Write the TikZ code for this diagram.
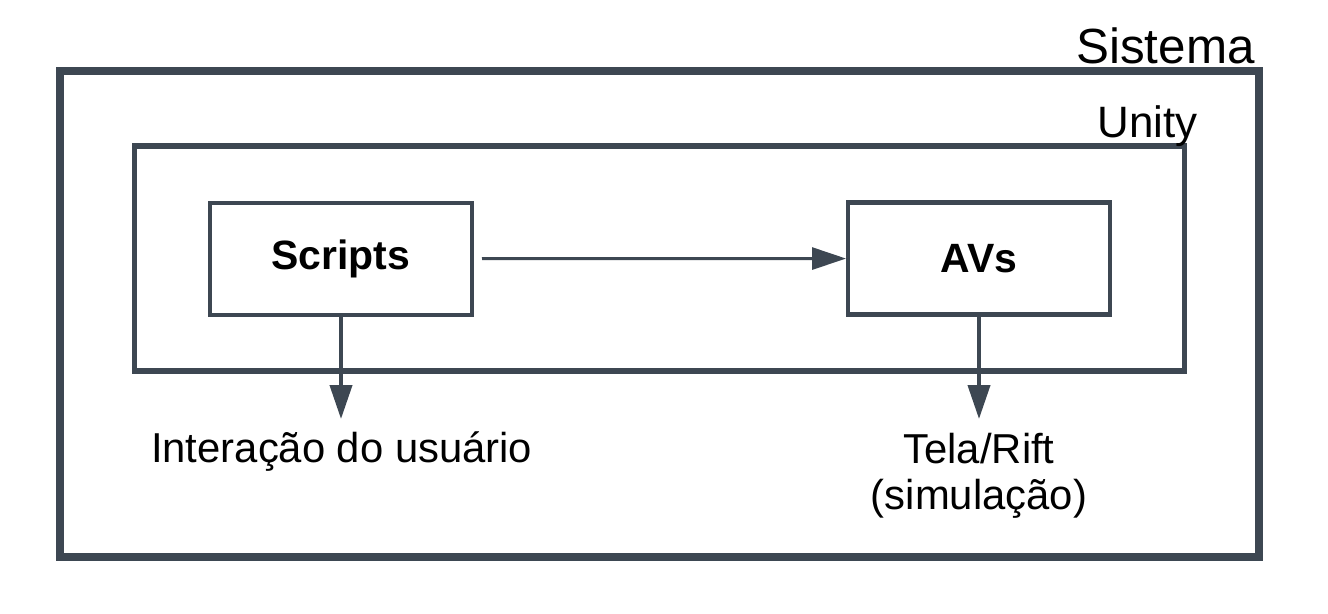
\documentclass[tikz,border=0pt]{standalone}
\usepackage{fontspec}
\setmainfont{Liberation Sans}
\usetikzlibrary{arrows.meta, positioning}
\definecolor{slate}{RGB}{61,71,82}

\begin{document}
\begin{tikzpicture}[
        x=0.02cm, y=-0.02cm,
        frame/.style={rectangle, draw=slate, inner sep=0pt},
        block/.style={rectangle, draw=slate, line width=2.3pt, minimum width=5.24cm, minimum height=2.24cm, font=\fontsize{23.3}{26}\selectfont\bfseries},
        title/.style={inner sep=0pt, anchor=base east},
        outtext/.style={inner sep=0pt, align=center, font=\fontsize{23.8}{26.1}\selectfont},
        flow/.style={draw=slate, line width=2.3pt, -{Triangle[length=0.68cm, width=0.44cm]}}
    ]
        \useasboundingbox (0,0) rectangle (1328,613);

        % containers
        \node[frame, line width=4.6pt, minimum width=23.99cm, minimum height=9.72cm] (sistema) at (659.75,314) {};
        \node[frame, line width=3.1pt, minimum width=21cm, minimum height=4.5cm] (unity) at (659.5,258.5) {};
        \node[title, font=\fontsize{28.1}{30}\selectfont] (sistematitle) at (1255,63) {Sistema};
        \node[title, font=\fontsize{25}{28}\selectfont] (unitytitle) at (1198,137) {Unity};

        % blocks
        \node[block] (scripts) at (341,258.7) {Scripts};
        \node[block] (avs) at (979,258.5) {AVs};

        % outputs
        \coordinate (scriptsout) at (341,419);
        \coordinate (avsout) at (979,419);
        \node[outtext, anchor=base] (usuario) at (341.7,462) {Interação do usuário};
        \node[outtext, anchor=north] (tela) at (979,433) {Tela/Rift\\(simulação)};

        \draw[flow, line width=1.7pt, shorten <=0.16cm] (scripts) -- (avs);
        \draw[flow] (scripts) -- (scriptsout);
        \draw[flow] (avs) -- (avsout);
    \end{tikzpicture}
\end{document}
